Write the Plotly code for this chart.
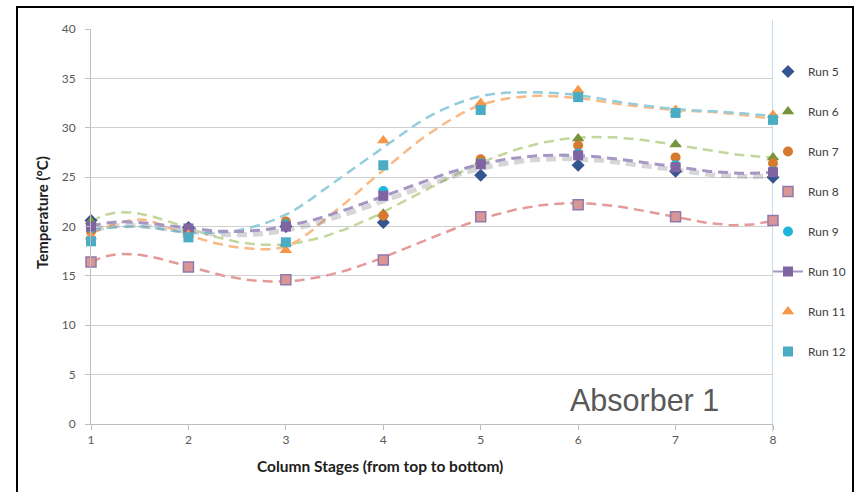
import numpy as np
import plotly.graph_objects as go

stages = [1, 2, 3, 4, 5, 6, 7, 8]
run5 = [20.6, 19.9, 20.0, 20.4, 25.2, 26.2, 25.6, 25.0]
run6 = [20.5, 19.8, 18.3, 21.3, 26.6, 28.9, 28.3, 27.0]
run7 = [19.5, 19.5, 20.5, 21.1, 26.8, 28.2, 27.0, 26.4]
run8 = [16.4, 15.9, 14.6, 16.6, 21.0, 22.2, 21.0, 20.6]
run9 = [19.8, 19.2, 20.2, 23.6, 26.4, 27.4, 26.2, 25.6]
run10 = [20.0, 19.8, 20.0, 23.1, 26.3, 27.2, 26.0, 25.5]
run11 = [19.0, 19.2, 17.6, 28.7, 32.5, 33.8, 31.8, 31.3]
run12 = [18.5, 18.9, 18.4, 26.2, 31.8, 33.1, 31.5, 30.8]

# trend curves of Run 11 and Run 12 at half-stages
trend_x = [1, 1.5, 2, 2.5, 3, 3.5, 4, 4.5, 5, 5.5, 6, 6.5, 7, 7.5, 8]
trend11 = [19.3, 20.7, 19.1, 17.9, 18.0, 21.5, 25.7, 29.6, 32.3, 33.2, 33.0, 32.3, 31.8, 31.5, 30.9]
trend12 = [19.7, 20.0, 19.4, 19.6, 21.2, 24.5, 28.0, 31.3, 33.2, 33.6, 33.3, 32.5, 31.9, 31.6, 31.2]

series = [
    ("Run 5", run5, "diamond", "#34558F", None),
    ("Run 6", run6, "triangle-up", "#77933C", None),
    ("Run 7", run7, "circle", "#D57A2E", None),
    ("Run 8", run8, "square", "#D99694", "#8E7AAE"),
    ("Run 9", run9, "circle", "#1EB4DC", None),
    ("Run 10", run10, "square", "#8064A2", None),
    ("Run 11", run11, "triangle-up", "#F79646", None),
    ("Run 12", run12, "square", "#4BACC6", None),
]

DASH = "10px,6px"

fig = go.Figure()
xs = np.linspace(1, 8, 141)

def fit(vals, order=6):
    c = np.polyfit(stages, vals, order)
    return np.polyval(c, xs)

# polynomial trendlines
for vals, col in [(run8, "#E39A98"), (run6, "#C3D69B")]:
    fig.add_trace(go.Scatter(x=xs, y=fit(vals), mode="lines", showlegend=False,
                             line=dict(color=col, width=2.5, dash=DASH),
                             hoverinfo="skip", cliponaxis=False))
for vals, col in [(trend11, "#F9B984"), (trend12, "#92CDDC")]:
    fig.add_trace(go.Scatter(x=trend_x, y=vals, mode="lines", showlegend=False,
                             line=dict(color=col, width=2.5, dash=DASH, shape="spline",
                                       smoothing=1.0),
                             hoverinfo="skip", cliponaxis=False))

# Run 10 line with shadow
fig.add_trace(go.Scatter(x=xs + 0.03, y=fit(run10) - 0.35, mode="lines", showlegend=False,
                         line=dict(color="rgba(120,120,130,0.30)", width=5, dash=DASH),
                         hoverinfo="skip", cliponaxis=False))
fig.add_trace(go.Scatter(x=xs, y=fit(run10), mode="lines", showlegend=False,
                         line=dict(color="#A596C4", width=3, dash=DASH),
                         hoverinfo="skip", cliponaxis=False))

for i, (name, vals, sym, col, lc) in enumerate(series):
    mk = dict(symbol=sym, color=col, size=10 if sym != "triangle-up" else 11,
              line=dict(color=lc if lc else col, width=1.5 if lc else 0))
    if name == "Run 10":
        fig.add_trace(go.Scatter(x=stages, y=vals, mode="markers", marker=mk, name=name,
                                 showlegend=False, cliponaxis=False, legendgroup=name))
        fig.add_trace(go.Scatter(x=[None], y=[None], mode="lines+markers", marker=mk,
                                 line=dict(color="#A596C4", width=2), name=name,
                                 legendgroup=name))
    else:
        fig.add_trace(go.Scatter(x=stages, y=vals, mode="markers", marker=mk, name=name,
                                 cliponaxis=False, legendgroup=name))

fig.update_layout(
    width=857, height=492,
    margin=dict(l=91, r=84, t=29, b=68, autoexpand=False),
    paper_bgcolor="white", plot_bgcolor="white",
    font=dict(family="Lato, Open Sans, sans-serif", size=12, color="#595959"),
    showlegend=True,
    legend=dict(x=(768 - 91) / 682, xanchor="left", y=(424 - 57) / 395, yanchor="top",
                tracegroupgap=21,
                font=dict(size=12, color="#404040"), bgcolor="rgba(0,0,0,0)",
                itemwidth=30),
    xaxis=dict(range=[1, 8], dtick=1, tick0=1, showgrid=False, zeroline=False,
               showline=True, linecolor="#BFBFBF", ticks="outside", ticklen=5,
               tickcolor="#BFBFBF", tickfont=dict(size=12, color="#595959")),
    yaxis=dict(range=[0, 40], dtick=5, showgrid=True, gridcolor="#D0D0D0", zeroline=False,
               showline=True, linecolor="#BFBFBF", ticks="outside", ticklen=5,
               tickcolor="#BFBFBF", ticklabelstandoff=7,
               tickfont=dict(size=12, color="#595959")),
    annotations=[
        dict(text="<b>Column Stages (from top to bottom)</b>", xref="paper", yref="paper",
             x=(380 - 91) / 682, y=(424 - 466) / 395, showarrow=False,
             xanchor="center", yanchor="middle",
             font=dict(size=15.5, color="#202020")),
        dict(text="<b>Temperature (°C)</b>", xref="paper", yref="paper",
             x=(42 - 91) / 682, y=(424 - 212) / 395, showarrow=False, textangle=-90,
             xanchor="center", yanchor="middle",
             font=dict(size=15, color="#202020")),
        dict(text="Absorber 1", xref="paper", yref="paper",
             x=(644 - 91) / 682, y=(424 - 400) / 395, showarrow=False,
             xanchor="center", yanchor="middle",
             font=dict(family="Liberation Sans, Arial, sans-serif", size=30.5, color="#595959")),
    ],
    shapes=[
        dict(type="rect", xref="paper", yref="paper",
             x0=(17 - 91) / 682, x1=(853 - 91) / 682,
             y0=(424 - 520) / 395, y1=(424 - 7) / 395,
             line=dict(color="black", width=2), fillcolor="rgba(0,0,0,0)", layer="below"),
        dict(type="line", xref="x", yref="paper", x0=8, x1=8,
             y0=-0.02, y1=(424 - 20) / 395,
             line=dict(color="#9DC3E6", width=1.2), layer="below"),
    ],
)

fig.write_html("out.html")
